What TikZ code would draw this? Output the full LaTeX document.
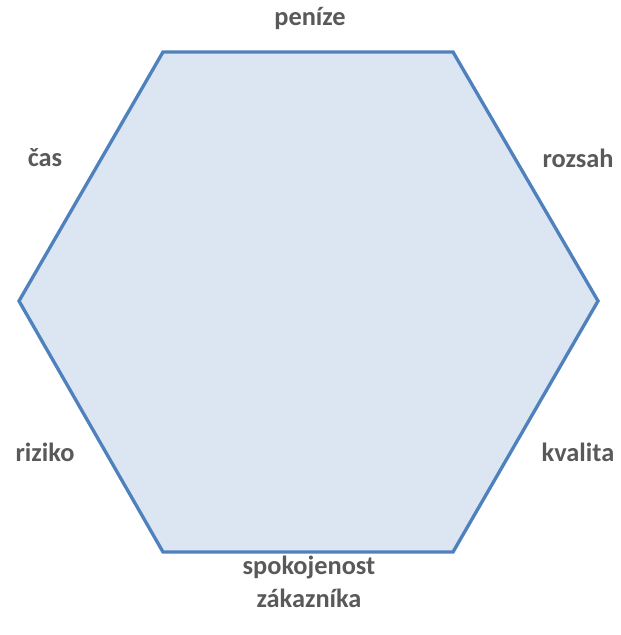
\documentclass[tikz,border=0pt]{standalone}
\usepackage{fontspec}
\setmainfont{Carlito}
\usepackage{xcolor}
\usepackage{tikz}
\usetikzlibrary{positioning, calc}
\definecolor{hexline}{HTML}{4F81BD}
\definecolor{hexfill}{HTML}{DCE6F2}
\definecolor{labeltext}{HTML}{595959}
\tikzset{
  hexagon/.style={draw=hexline, fill=hexfill, line width=1.9pt, line join=miter},
  side/.style={font=\bfseries\fontsize{15}{18.7}\selectfont, text=labeltext,
    align=center, inner sep=0pt}
}
\begin{document}
\begin{tikzpicture}[x=0.02cm, y=-0.02cm]
\useasboundingbox (0,0) rectangle (621,635);
% vertices of the hexagon
\coordinate (tl) at (163,52);
\coordinate (tr) at (453,52);
\coordinate (r)  at (598,301);
\coordinate (br) at (453,552);
\coordinate (bl) at (163,552);
\coordinate (l)  at (19,301);
\draw [hexagon] (tl) -- (tr) -- (r) -- (br) -- (bl) -- (l) -- cycle;

\node (money)    [side] at (310,18)  {peníze};
\node (time)     [side] at (45,158)  {čas};
\node (scope)    [side] at (578,158) {rozsah};
\node (risk)     [side] at (45,452)  {riziko};
\node (quality)  [side] at (578,452) {kvalita};
\node (customer) [side] at (309,582) {spokojenost\\zákazníka};
\end{tikzpicture}
\end{document}
